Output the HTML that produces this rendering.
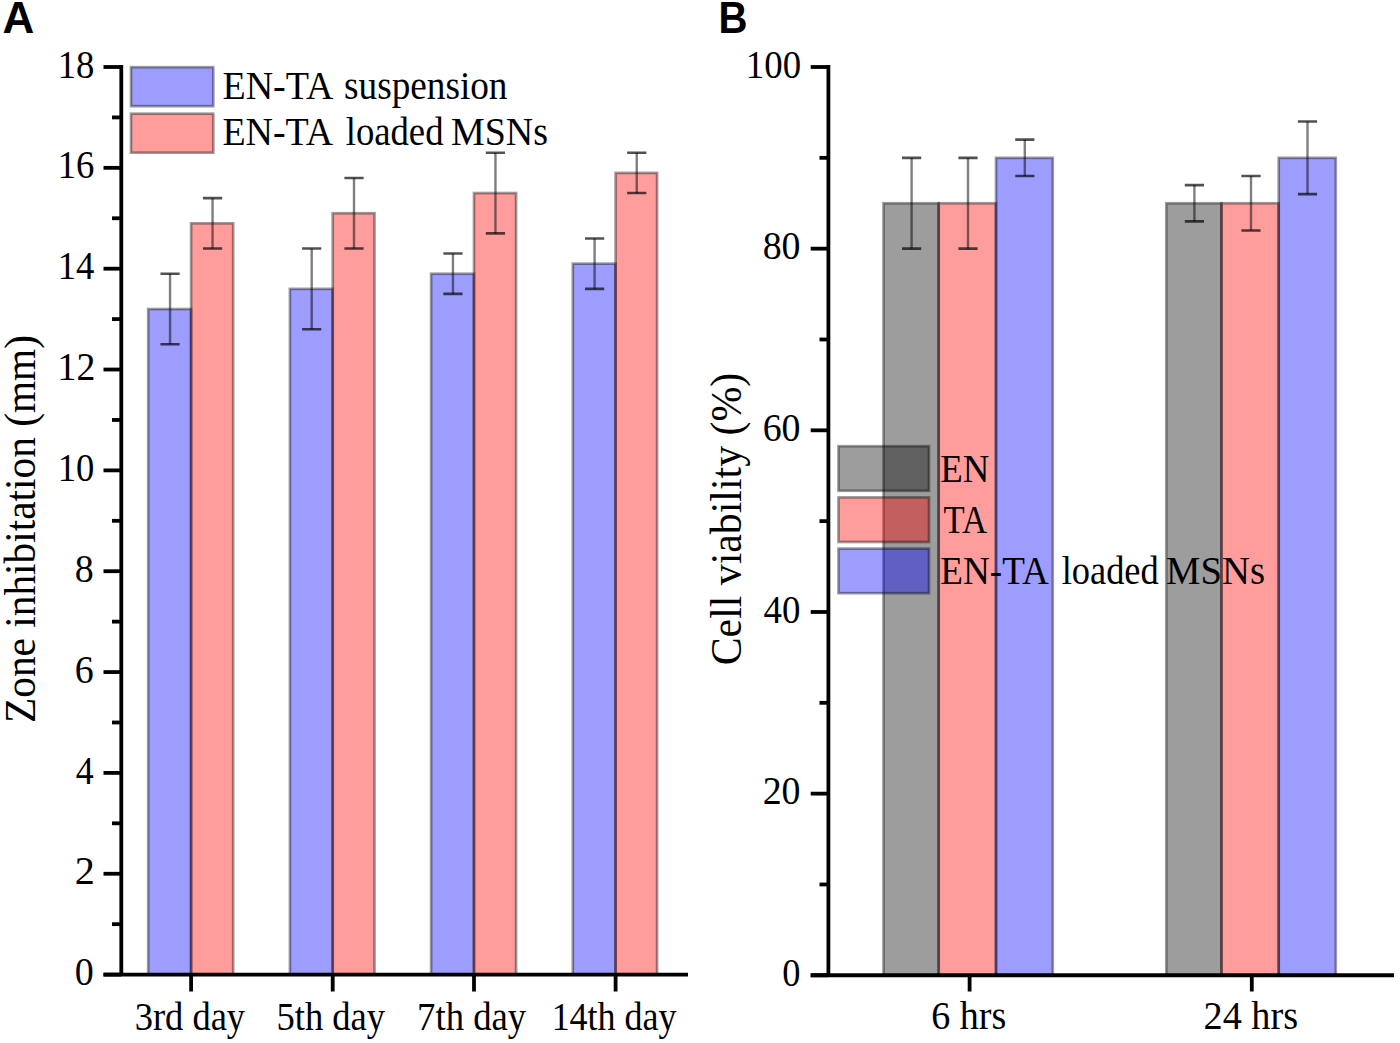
<!DOCTYPE html>
<html><head><meta charset="utf-8"><style>
html,body{margin:0;padding:0;background:#fff;width:1400px;height:1043px;overflow:hidden}
svg{position:absolute;left:0;top:0}
.t{font-family:"Liberation Serif",serif;font-size:39px;fill:#000}
.tt{font-family:"Liberation Serif",serif;font-size:44px;fill:#000}
.pl{font-family:"Liberation Sans",sans-serif;font-weight:bold;font-size:44px;fill:#000}
</style></head><body>
<svg width="1400" height="1043" viewBox="0 0 1400 1043">
<text x="74.73" y="985.20" class="t" textLength="18.96" lengthAdjust="spacingAndGlyphs">0</text>
<text x="74.67" y="884.36" class="t" textLength="20.07" lengthAdjust="spacingAndGlyphs">2</text>
<text x="75.70" y="783.51" class="t" textLength="17.96" lengthAdjust="spacingAndGlyphs">4</text>
<text x="74.73" y="682.67" class="t" textLength="18.96" lengthAdjust="spacingAndGlyphs">6</text>
<text x="74.73" y="581.82" class="t" textLength="18.96" lengthAdjust="spacingAndGlyphs">8</text>
<text x="57.68" y="480.98" class="t" textLength="36.69" lengthAdjust="spacingAndGlyphs">10</text>
<text x="57.60" y="380.13" class="t" textLength="37.76" lengthAdjust="spacingAndGlyphs">12</text>
<text x="57.68" y="279.29" class="t" textLength="36.69" lengthAdjust="spacingAndGlyphs">14</text>
<text x="57.68" y="178.44" class="t" textLength="36.69" lengthAdjust="spacingAndGlyphs">16</text>
<text x="57.68" y="77.60" class="t" textLength="36.69" lengthAdjust="spacingAndGlyphs">18</text>
<rect x="148.20" y="309.03" width="42.90" height="665.57" fill="rgba(0,0,255,0.385)" stroke="rgba(0,0,0,0.385)" stroke-width="2.7"/>
<rect x="191.10" y="223.31" width="42.10" height="751.29" fill="rgba(255,0,0,0.385)" stroke="rgba(0,0,0,0.385)" stroke-width="2.7"/>
<path d="M170.05 273.73V344.32" stroke="rgba(0,0,0,0.5)" stroke-width="2.4" fill="none"/>
<path d="M160.45 273.73H179.65M160.45 344.32H179.65" stroke="rgba(0,0,0,0.68)" stroke-width="2.6" fill="none"/>
<path d="M212.55 198.10V248.52" stroke="rgba(0,0,0,0.5)" stroke-width="2.4" fill="none"/>
<path d="M202.95 198.10H222.15M202.95 248.52H222.15" stroke="rgba(0,0,0,0.68)" stroke-width="2.6" fill="none"/>
<text x="134.66" y="1029.80" class="t" textLength="110.47" lengthAdjust="spacingAndGlyphs">3rd day</text>
<rect x="289.90" y="288.86" width="42.80" height="685.74" fill="rgba(0,0,255,0.385)" stroke="rgba(0,0,0,0.385)" stroke-width="2.7"/>
<rect x="332.70" y="213.22" width="41.80" height="761.38" fill="rgba(255,0,0,0.385)" stroke="rgba(0,0,0,0.385)" stroke-width="2.7"/>
<path d="M311.70 248.52V329.20" stroke="rgba(0,0,0,0.5)" stroke-width="2.4" fill="none"/>
<path d="M302.10 248.52H321.30M302.10 329.20H321.30" stroke="rgba(0,0,0,0.68)" stroke-width="2.6" fill="none"/>
<path d="M354.00 177.93V248.52" stroke="rgba(0,0,0,0.5)" stroke-width="2.4" fill="none"/>
<path d="M344.40 177.93H363.60M344.40 248.52H363.60" stroke="rgba(0,0,0,0.68)" stroke-width="2.6" fill="none"/>
<text x="276.53" y="1029.80" class="t" textLength="108.61" lengthAdjust="spacingAndGlyphs">5th day</text>
<rect x="431.10" y="273.73" width="42.90" height="700.87" fill="rgba(0,0,255,0.385)" stroke="rgba(0,0,0,0.385)" stroke-width="2.7"/>
<rect x="474.00" y="193.06" width="42.10" height="781.54" fill="rgba(255,0,0,0.385)" stroke="rgba(0,0,0,0.385)" stroke-width="2.7"/>
<path d="M452.95 253.56V293.90" stroke="rgba(0,0,0,0.5)" stroke-width="2.4" fill="none"/>
<path d="M443.35 253.56H462.55M443.35 293.90H462.55" stroke="rgba(0,0,0,0.68)" stroke-width="2.6" fill="none"/>
<path d="M495.45 152.72V233.39" stroke="rgba(0,0,0,0.5)" stroke-width="2.4" fill="none"/>
<path d="M485.85 152.72H505.05M485.85 233.39H505.05" stroke="rgba(0,0,0,0.68)" stroke-width="2.6" fill="none"/>
<text x="417.12" y="1029.80" class="t" textLength="109.01" lengthAdjust="spacingAndGlyphs">7th day</text>
<rect x="572.80" y="263.65" width="42.80" height="710.95" fill="rgba(0,0,255,0.385)" stroke="rgba(0,0,0,0.385)" stroke-width="2.7"/>
<rect x="615.60" y="172.89" width="41.50" height="801.71" fill="rgba(255,0,0,0.385)" stroke="rgba(0,0,0,0.385)" stroke-width="2.7"/>
<path d="M594.60 238.44V288.86" stroke="rgba(0,0,0,0.5)" stroke-width="2.4" fill="none"/>
<path d="M585.00 238.44H604.20M585.00 288.86H604.20" stroke="rgba(0,0,0,0.68)" stroke-width="2.6" fill="none"/>
<path d="M636.75 152.72V193.06" stroke="rgba(0,0,0,0.5)" stroke-width="2.4" fill="none"/>
<path d="M627.15 152.72H646.35M627.15 193.06H646.35" stroke="rgba(0,0,0,0.68)" stroke-width="2.6" fill="none"/>
<text x="551.63" y="1029.80" class="t" textLength="124.91" lengthAdjust="spacingAndGlyphs">14th day</text>
<rect x="131" y="67.2" width="82.3" height="39" fill="rgba(0,0,255,0.385)" stroke="rgba(0,0,0,0.385)" stroke-width="2.7"/>
<rect x="131" y="113.7" width="82.3" height="39" fill="rgba(255,0,0,0.385)" stroke="rgba(0,0,0,0.385)" stroke-width="2.7"/>
<text x="222.43" y="99.30" class="t" textLength="110.93" lengthAdjust="spacingAndGlyphs">EN-TA</text>
<text x="344.05" y="99.30" class="t" textLength="163.43" lengthAdjust="spacingAndGlyphs">suspension</text>
<text x="222.43" y="144.60" class="t" textLength="110.73" lengthAdjust="spacingAndGlyphs">EN-TA</text>
<text x="345.70" y="144.60" class="t" textLength="97.83" lengthAdjust="spacingAndGlyphs">loaded</text>
<text x="451.03" y="144.60" class="t" textLength="97.02" lengthAdjust="spacingAndGlyphs">MSNs</text>
<text transform="translate(35.3,723) rotate(-90)" class="tt" textLength="388" lengthAdjust="spacingAndGlyphs">Zone inhibitation (mm)</text>
<text x="782.27" y="985.90" class="t" textLength="18.20" lengthAdjust="spacingAndGlyphs">0</text>
<text x="762.63" y="804.24" class="t" textLength="37.86" lengthAdjust="spacingAndGlyphs">20</text>
<text x="763.60" y="622.58" class="t" textLength="36.87" lengthAdjust="spacingAndGlyphs">40</text>
<text x="762.63" y="440.92" class="t" textLength="37.86" lengthAdjust="spacingAndGlyphs">60</text>
<text x="762.63" y="259.26" class="t" textLength="37.86" lengthAdjust="spacingAndGlyphs">80</text>
<text x="745.87" y="77.60" class="t" textLength="55.20" lengthAdjust="spacingAndGlyphs">100</text>
<rect x="883.50" y="203.25" width="55.20" height="772.05" fill="rgba(0,0,0,0.385)" stroke="rgba(0,0,0,0.385)" stroke-width="2.7"/>
<rect x="938.70" y="203.25" width="57.30" height="772.05" fill="rgba(255,0,0,0.385)" stroke="rgba(0,0,0,0.385)" stroke-width="2.7"/>
<rect x="996.00" y="157.83" width="56.80" height="817.47" fill="rgba(0,0,255,0.385)" stroke="rgba(0,0,0,0.385)" stroke-width="2.7"/>
<path d="M911.60 157.83V248.66" stroke="rgba(0,0,0,0.5)" stroke-width="2.4" fill="none"/>
<path d="M902.00 157.83H921.20M902.00 248.66H921.20" stroke="rgba(0,0,0,0.68)" stroke-width="2.6" fill="none"/>
<path d="M968.00 157.83V248.66" stroke="rgba(0,0,0,0.5)" stroke-width="2.4" fill="none"/>
<path d="M958.40 157.83H977.60M958.40 248.66H977.60" stroke="rgba(0,0,0,0.68)" stroke-width="2.6" fill="none"/>
<path d="M1024.80 139.66V176.00" stroke="rgba(0,0,0,0.5)" stroke-width="2.4" fill="none"/>
<path d="M1015.20 139.66H1034.40M1015.20 176.00H1034.40" stroke="rgba(0,0,0,0.68)" stroke-width="2.6" fill="none"/>
<text x="931.22" y="1029.00" class="t" textLength="75.13" lengthAdjust="spacingAndGlyphs">6 hrs</text>
<rect x="1166.30" y="203.25" width="55.20" height="772.05" fill="rgba(0,0,0,0.385)" stroke="rgba(0,0,0,0.385)" stroke-width="2.7"/>
<rect x="1221.50" y="203.25" width="57.20" height="772.05" fill="rgba(255,0,0,0.385)" stroke="rgba(0,0,0,0.385)" stroke-width="2.7"/>
<rect x="1278.70" y="157.83" width="57.10" height="817.47" fill="rgba(0,0,255,0.385)" stroke="rgba(0,0,0,0.385)" stroke-width="2.7"/>
<path d="M1194.40 185.08V221.41" stroke="rgba(0,0,0,0.5)" stroke-width="2.4" fill="none"/>
<path d="M1184.80 185.08H1204.00M1184.80 221.41H1204.00" stroke="rgba(0,0,0,0.68)" stroke-width="2.6" fill="none"/>
<path d="M1251.00 176.00V230.49" stroke="rgba(0,0,0,0.5)" stroke-width="2.4" fill="none"/>
<path d="M1241.40 176.00H1260.60M1241.40 230.49H1260.60" stroke="rgba(0,0,0,0.68)" stroke-width="2.6" fill="none"/>
<path d="M1307.50 121.50V194.16" stroke="rgba(0,0,0,0.5)" stroke-width="2.4" fill="none"/>
<path d="M1297.90 121.50H1317.10M1297.90 194.16H1317.10" stroke="rgba(0,0,0,0.68)" stroke-width="2.6" fill="none"/>
<text x="1203.52" y="1029.00" class="t" textLength="94.64" lengthAdjust="spacingAndGlyphs">24 hrs</text>
<rect x="838.5" y="446.20" width="90.5" height="44.6" fill="rgba(0,0,0,0.385)" stroke="rgba(0,0,0,0.385)" stroke-width="2.7"/>
<rect x="838.5" y="497.40" width="90.5" height="44.6" fill="rgba(255,0,0,0.385)" stroke="rgba(0,0,0,0.385)" stroke-width="2.7"/>
<rect x="838.5" y="548.60" width="90.5" height="44.6" fill="rgba(0,0,255,0.385)" stroke="rgba(0,0,0,0.385)" stroke-width="2.7"/>
<text x="940.36" y="481.50" class="t" textLength="49.10" lengthAdjust="spacingAndGlyphs">EN</text>
<text x="943.50" y="533.00" class="t" textLength="43.55" lengthAdjust="spacingAndGlyphs">TA</text>
<text x="940.35" y="584.00" class="t" textLength="108.41" lengthAdjust="spacingAndGlyphs">EN-TA</text>
<text x="1061.70" y="584.00" class="t" textLength="97.03" lengthAdjust="spacingAndGlyphs">loaded</text>
<text x="1166.11" y="584.00" class="t" textLength="98.86" lengthAdjust="spacingAndGlyphs">MSNs</text>
<text transform="translate(741,665.3) rotate(-90)" class="tt" textLength="292.5" lengthAdjust="spacingAndGlyphs">Cell viability (%)</text>
<text x="2.5" y="32.5" class="pl">A</text>
<text x="718.5" y="32.5" class="pl" textLength="29" lengthAdjust="spacingAndGlyphs">B</text>
<line x1="121.3" y1="65.1" x2="121.3" y2="974.6" stroke="#000" stroke-width="3.8"/>
<line x1="103.5" y1="974.6" x2="688" y2="974.6" stroke="#000" stroke-width="3.9"/>
<line x1="103.5" y1="974.60" x2="121.3" y2="974.60" stroke="#000" stroke-width="3.8"/>
<line x1="112" y1="924.18" x2="121.3" y2="924.18" stroke="#000" stroke-width="3.8"/>
<line x1="103.5" y1="873.76" x2="121.3" y2="873.76" stroke="#000" stroke-width="3.8"/>
<line x1="112" y1="823.33" x2="121.3" y2="823.33" stroke="#000" stroke-width="3.8"/>
<line x1="103.5" y1="772.91" x2="121.3" y2="772.91" stroke="#000" stroke-width="3.8"/>
<line x1="112" y1="722.49" x2="121.3" y2="722.49" stroke="#000" stroke-width="3.8"/>
<line x1="103.5" y1="672.07" x2="121.3" y2="672.07" stroke="#000" stroke-width="3.8"/>
<line x1="112" y1="621.64" x2="121.3" y2="621.64" stroke="#000" stroke-width="3.8"/>
<line x1="103.5" y1="571.22" x2="121.3" y2="571.22" stroke="#000" stroke-width="3.8"/>
<line x1="112" y1="520.80" x2="121.3" y2="520.80" stroke="#000" stroke-width="3.8"/>
<line x1="103.5" y1="470.38" x2="121.3" y2="470.38" stroke="#000" stroke-width="3.8"/>
<line x1="112" y1="419.96" x2="121.3" y2="419.96" stroke="#000" stroke-width="3.8"/>
<line x1="103.5" y1="369.53" x2="121.3" y2="369.53" stroke="#000" stroke-width="3.8"/>
<line x1="112" y1="319.11" x2="121.3" y2="319.11" stroke="#000" stroke-width="3.8"/>
<line x1="103.5" y1="268.69" x2="121.3" y2="268.69" stroke="#000" stroke-width="3.8"/>
<line x1="112" y1="218.27" x2="121.3" y2="218.27" stroke="#000" stroke-width="3.8"/>
<line x1="103.5" y1="167.84" x2="121.3" y2="167.84" stroke="#000" stroke-width="3.8"/>
<line x1="112" y1="117.42" x2="121.3" y2="117.42" stroke="#000" stroke-width="3.8"/>
<line x1="103.5" y1="67.00" x2="121.3" y2="67.00" stroke="#000" stroke-width="3.8"/>
<line x1="191.1" y1="974.6" x2="191.1" y2="991.5" stroke="#000" stroke-width="3.8"/>
<line x1="332.7" y1="974.6" x2="332.7" y2="991.5" stroke="#000" stroke-width="3.8"/>
<line x1="474.0" y1="974.6" x2="474.0" y2="991.5" stroke="#000" stroke-width="3.8"/>
<line x1="615.6" y1="974.6" x2="615.6" y2="991.5" stroke="#000" stroke-width="3.8"/>
<line x1="828.4" y1="65.1" x2="828.4" y2="975.3" stroke="#000" stroke-width="3.8"/>
<line x1="810.7" y1="975.3" x2="1394" y2="975.3" stroke="#000" stroke-width="3.9"/>
<line x1="810.7" y1="975.30" x2="828.4" y2="975.30" stroke="#000" stroke-width="3.8"/>
<line x1="819.5" y1="884.47" x2="828.4" y2="884.47" stroke="#000" stroke-width="3.8"/>
<line x1="810.7" y1="793.64" x2="828.4" y2="793.64" stroke="#000" stroke-width="3.8"/>
<line x1="819.5" y1="702.81" x2="828.4" y2="702.81" stroke="#000" stroke-width="3.8"/>
<line x1="810.7" y1="611.98" x2="828.4" y2="611.98" stroke="#000" stroke-width="3.8"/>
<line x1="819.5" y1="521.15" x2="828.4" y2="521.15" stroke="#000" stroke-width="3.8"/>
<line x1="810.7" y1="430.32" x2="828.4" y2="430.32" stroke="#000" stroke-width="3.8"/>
<line x1="819.5" y1="339.49" x2="828.4" y2="339.49" stroke="#000" stroke-width="3.8"/>
<line x1="810.7" y1="248.66" x2="828.4" y2="248.66" stroke="#000" stroke-width="3.8"/>
<line x1="819.5" y1="157.83" x2="828.4" y2="157.83" stroke="#000" stroke-width="3.8"/>
<line x1="810.7" y1="67.00" x2="828.4" y2="67.00" stroke="#000" stroke-width="3.8"/>
<line x1="969.6" y1="975.3" x2="969.6" y2="991.5" stroke="#000" stroke-width="3.8"/>
<line x1="1251.8" y1="975.3" x2="1251.8" y2="991.5" stroke="#000" stroke-width="3.8"/>
</svg>
</body></html>
